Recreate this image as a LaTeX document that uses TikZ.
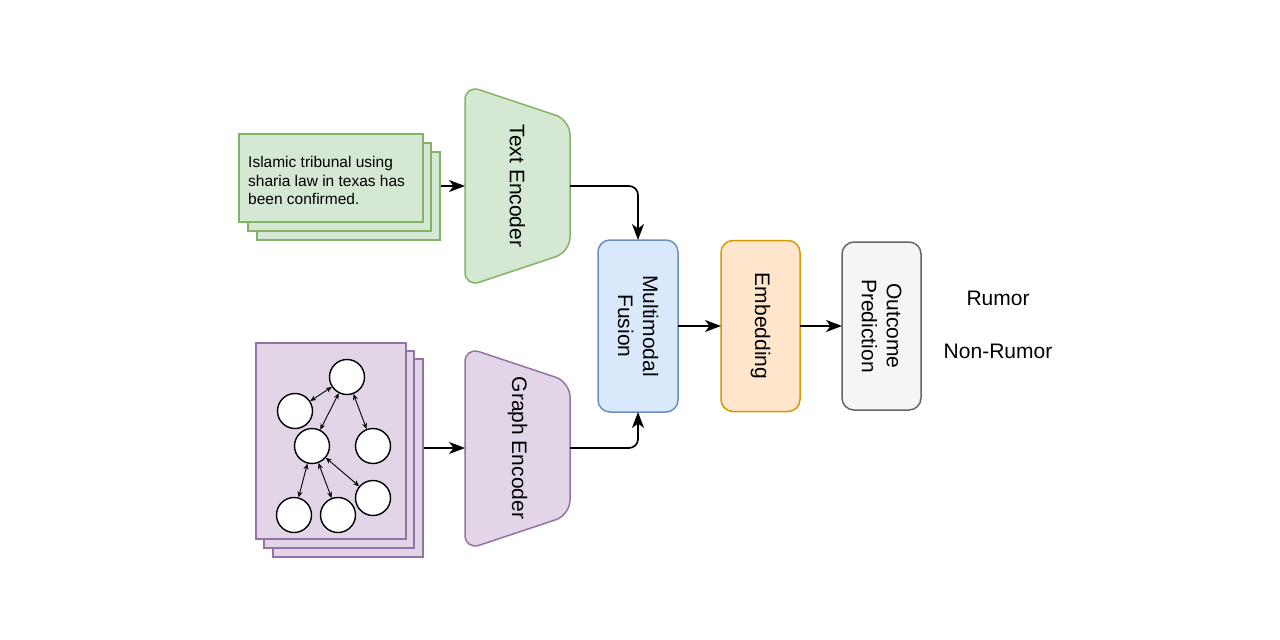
\documentclass[tikz,border=0pt]{standalone}
\usepackage{fontspec}
\setmainfont{Liberation Sans}
\usetikzlibrary{arrows.meta}
\definecolor{gfill}{HTML}{D5E8D4}\definecolor{gdraw}{HTML}{82B366}
\definecolor{pfill}{HTML}{E1D5E7}\definecolor{pdraw}{HTML}{9673A6}
\definecolor{bfill}{HTML}{DAE8FC}\definecolor{bdraw}{HTML}{6C8EBF}
\definecolor{ofill}{HTML}{FFE6CC}\definecolor{odraw}{HTML}{D79B00}
\definecolor{efill}{HTML}{F5F5F5}\definecolor{edraw}{HTML}{666666}
\begin{document}
\begin{tikzpicture}[x=1pt,y=-1pt,
  lbl/.style={font=\fontsize{21}{25}\selectfont, align=center, inner sep=0},
  doctext/.style={font=\fontsize{15.5}{18.7}\selectfont, align=left, inner sep=0},
  sheetg/.style={draw=gdraw, fill=gfill, line width=1.5pt, inner sep=0, anchor=north west},
  sheetp/.style={draw=pdraw, fill=pfill, line width=1.5pt, inner sep=0, anchor=north west},
  hold/.style={inner sep=0, outer sep=0},
  stage/.style={rounded corners=12pt, line width=1.5pt, inner sep=0, outer sep=0},
  trap/.style={rounded corners=15pt, line width=1.5pt},
  conn/.style={line width=1.7pt, rounded corners=9pt, -{Stealth[length=16pt,width=12pt,inset=4.5pt]}},
  gnode/.style={circle, draw=black, fill=white, line width=1.4pt, minimum size=35pt, inner sep=0},
  gedge/.style={line width=0.9pt, {Stealth[length=6pt,width=5pt]}-{Stealth[length=6pt,width=5pt]}}
]
\path[use as bounding box, fill=white] (0,0) rectangle (1280,640);

% text document stack
\node[sheetg, minimum width=183pt, minimum height=88pt] (doc3) at (256,151) {};
\node[sheetg, minimum width=183pt, minimum height=88pt] (doc2) at (247,142) {};
\node[sheetg, minimum width=184pt, minimum height=88pt] (doc1) at (238,133) {};
\node[doctext, anchor=west] (doct) at (248,180.5) {Islamic tribunal using\\sharia law in texas has\\been confirmed.};

% text encoder
\node[hold, minimum width=105pt, minimum height=202pt] (te) at (517.5,186) {};
\draw[trap, draw=gdraw, fill=gfill] (465,85) -- (570,120) -- (570,252) -- (465,287) -- cycle;
\node[lbl, rotate=-90] (tet) at (te) {Text Encoder};

% graph stack
\node[sheetp, minimum width=150pt, minimum height=198pt] (gr3) at (272,358) {};
\node[sheetp, minimum width=150pt, minimum height=197pt] (gr2) at (263,350) {};
\node[sheetp, minimum width=150pt, minimum height=196pt] (gr1) at (255,342) {};

\node[gnode] (n1) at (347,377) {};
\node[gnode] (n2) at (295,411) {};
\node[gnode] (n3) at (312,446) {};
\node[gnode] (n4) at (373,446) {};
\node[gnode] (n5) at (294,515) {};
\node[gnode] (n6) at (338,515) {};
\node[gnode] (n7) at (373,498) {};
\draw[gedge] (n1) -- (n2);
\draw[gedge] (n1) -- (n3);
\draw[gedge] (n1) -- (n4);
\draw[gedge] (n3) -- (n5);
\draw[gedge] (n3) -- (n6);
\draw[gedge] (n3) -- (n7);

% graph encoder
\node[hold, minimum width=105pt, minimum height=202pt] (ge) at (517.5,448) {};
\draw[trap, draw=pdraw, fill=pfill] (465,347) -- (570,382) -- (570,515) -- (465,550) -- cycle;
\node[lbl, rotate=-90] (get) at (ge) {Graph Encoder};

% stages
\node[stage, draw=bdraw, fill=bfill, minimum width=80pt, minimum height=172pt] (fus) at (638,326) {};
\node[lbl, rotate=-90] (fust) at (fus) {Multimodal\\Fusion};
\node[stage, draw=odraw, fill=ofill, minimum width=79pt, minimum height=171pt] (emb) at (760.5,326) {};
\node[lbl, rotate=-90] (embt) at (emb) {Embedding};
\node[stage, draw=edraw, fill=efill, minimum width=79pt, minimum height=168pt] (out) at (881.5,326) {};
\node[lbl, rotate=-90] (outt) at (out) {Outcome\\Prediction};

\node[lbl] (rum) at (998,298) {Rumor};
\node[lbl] (nrum) at (998,351) {Non-Rumor};

% connectors
\draw[conn] (doc3.east |- te.west) -- (te.west);
\draw[conn] (gr3.east |- ge.west) -- (ge.west);
\draw[conn] (te.east) -| (fus.north);
\draw[conn] (ge.east) -| (fus.south);
\draw[conn] (fus.east) -- (emb.west);
\draw[conn] (emb.east) -- (out.west);
\end{tikzpicture}
\end{document}
